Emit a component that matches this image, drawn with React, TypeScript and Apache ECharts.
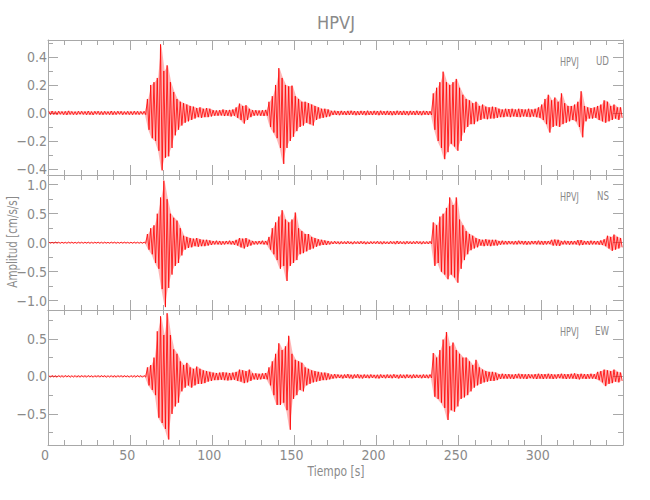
import React, { useEffect, useRef } from "react";
import * as echarts from "echarts";

const STATION = "HPVJ";
const CHANNELS = ["UD", "NS", "EW"];
const X_NAME = "Tiempo [s]";
const Y_NAME = "Amplitud [cm/s/s]";
const BIN_SECONDS = 2;
const X_MIN = 0;
const X_MAX = 350;
const X_INTERVAL = 50;

// per-panel axis extents and tick values
const Y_RANGES = [
  [-0.443, 0.521],
  [-1.16, 1.167],
  [-0.913, 0.883],
];
const Y_MAJOR = [
  [-0.4, -0.2, 0, 0.2, 0.4],
  [-1, -0.5, 0, 0.5, 1],
  [-0.5, 0, 0.5],
];
const Y_MINOR = [
  [-0.3, -0.1, 0.1, 0.3, 0.5],
  [-0.75, -0.25, 0.25, 0.75],
  [-0.75, -0.25, 0.25, 0.75],
];

// peak values (max / min) per 2 s window
const UD_HI = [
  0.012, 0.014, 0.01, 0.013, 0.011, 0.012, 0.015, 0.011, 0.01, 0.013,
  0.012, 0.011, 0.014, 0.01, 0.012, 0.013, 0.011, 0.012, 0.01, 0.014,
  0.011, 0.013, 0.012, 0.01, 0.012, 0.011, 0.013, 0.012, 0.011, 0.012,
  0.1, 0.2, 0.22, 0.25, 0.49, 0.3, 0.34, 0.22, 0.15, 0.1,
  0.08, 0.07, 0.06, 0.05, 0.045, 0.035, 0.04, 0.03, 0.035, 0.03,
  0.02, 0.018, 0.02, 0.025, 0.02, 0.022, 0.025, 0.04, 0.067, 0.05,
  0.055, 0.03, 0.02, 0.02, 0.018, 0.02, 0.022, 0.08, 0.12, 0.2,
  0.32, 0.25, 0.2, 0.19, 0.195, 0.12, 0.1, 0.08, 0.08, 0.07,
  0.06, 0.05, 0.04, 0.03, 0.03, 0.025, 0.015, 0.016, 0.014, 0.015,
  0.013, 0.015, 0.016, 0.014, 0.013, 0.015, 0.014, 0.016, 0.013, 0.015,
  0.014, 0.016, 0.013, 0.015, 0.014, 0.013, 0.016, 0.014, 0.015, 0.013,
  0.015, 0.014, 0.016, 0.013, 0.015, 0.014, 0.013, 0.14, 0.18, 0.22,
  0.295, 0.22, 0.2, 0.22, 0.243, 0.18, 0.13, 0.1, 0.09, 0.07,
  0.08, 0.05, 0.06, 0.045, 0.04, 0.045, 0.04, 0.03, 0.025, 0.03,
  0.028, 0.03, 0.025, 0.03, 0.027, 0.025, 0.03, 0.025, 0.03, 0.04,
  0.06, 0.1, 0.13, 0.09, 0.11, 0.08, 0.14, 0.07, 0.05, 0.05,
  0.06, 0.08, 0.155, 0.05, 0.04, 0.035, 0.04, 0.05, 0.06, 0.09,
  0.08, 0.05, 0.06, 0.04, 0.04,
];
const UD_LO = [
  -0.012, -0.011, -0.013, -0.01, -0.012, -0.014, -0.011, -0.012, -0.013, -0.01,
  -0.011, -0.013, -0.012, -0.014, -0.01, -0.012, -0.013, -0.011, -0.012, -0.013,
  -0.012, -0.01, -0.013, -0.011, -0.012, -0.013, -0.011, -0.012, -0.01, -0.012,
  -0.12, -0.18, -0.2, -0.27, -0.41, -0.32, -0.31, -0.25, -0.16, -0.12,
  -0.09, -0.07, -0.06, -0.05, -0.04, -0.03, -0.035, -0.03, -0.03, -0.025,
  -0.02, -0.02, -0.018, -0.022, -0.02, -0.025, -0.02, -0.035, -0.05, -0.076,
  -0.05, -0.03, -0.02, -0.018, -0.02, -0.022, -0.02, -0.1, -0.14, -0.18,
  -0.25, -0.364, -0.25, -0.2, -0.17, -0.13, -0.1, -0.09, -0.07, -0.08,
  -0.09, -0.05, -0.04, -0.035, -0.03, -0.025, -0.015, -0.014, -0.016, -0.013,
  -0.015, -0.014, -0.013, -0.016, -0.015, -0.013, -0.016, -0.014, -0.015, -0.013,
  -0.016, -0.013, -0.015, -0.014, -0.016, -0.015, -0.013, -0.015, -0.014, -0.016,
  -0.013, -0.015, -0.014, -0.016, -0.013, -0.015, -0.014, -0.12, -0.2, -0.25,
  -0.33, -0.28, -0.22, -0.24, -0.27, -0.2, -0.14, -0.1, -0.08, -0.08,
  -0.06, -0.05, -0.04, -0.045, -0.04, -0.04, -0.035, -0.03, -0.03, -0.025,
  -0.03, -0.025, -0.028, -0.03, -0.025, -0.027, -0.03, -0.025, -0.03, -0.035,
  -0.05, -0.08, -0.14, -0.1, -0.09, -0.1, -0.08, -0.07, -0.06, -0.05,
  -0.06, -0.1, -0.174, -0.06, -0.04, -0.04, -0.035, -0.05, -0.06, -0.07,
  -0.06, -0.05, -0.04, -0.05, -0.035,
];
const NS_HI = [
  0.01, 0.008, 0.011, 0.009, 0.01, 0.008, 0.011, 0.01, 0.009, 0.01,
  0.009, 0.011, 0.01, 0.008, 0.01, 0.011, 0.009, 0.01, 0.008, 0.011,
  0.01, 0.009, 0.011, 0.01, 0.008, 0.01, 0.011, 0.009, 0.01, 0.012,
  0.15, 0.25, 0.3, 0.5, 0.78, 1.07, 0.75, 0.5, 0.43, 0.38,
  0.25, 0.12, 0.1, 0.08, 0.07, 0.08, 0.06, 0.05, 0.05, 0.04,
  0.03, 0.035, 0.03, 0.025, 0.03, 0.035, 0.03, 0.05, 0.08, 0.07,
  0.08, 0.05, 0.03, 0.025, 0.03, 0.035, 0.03, 0.1, 0.25, 0.35,
  0.45, 0.56, 0.4, 0.35, 0.4, 0.52, 0.25, 0.2, 0.15, 0.15,
  0.1, 0.08, 0.06, 0.05, 0.04, 0.03, 0.02, 0.025, 0.02, 0.022,
  0.02, 0.025, 0.018, 0.022, 0.02, 0.025, 0.02, 0.018, 0.022, 0.02,
  0.025, 0.02, 0.022, 0.018, 0.025, 0.02, 0.03, 0.022, 0.02, 0.025,
  0.02, 0.022, 0.025, 0.02, 0.022, 0.02, 0.025, 0.35, 0.3, 0.45,
  0.5, 0.6, 0.78, 0.65, 0.78, 0.4, 0.3, 0.2, 0.15, 0.12,
  0.08, 0.06, 0.05, 0.06, 0.05, 0.05, 0.05, 0.03, 0.035, 0.03,
  0.03, 0.025, 0.03, 0.035, 0.03, 0.03, 0.025, 0.03, 0.03, 0.035,
  0.03, 0.03, 0.03, 0.05, 0.055, 0.05, 0.03, 0.035, 0.03, 0.03,
  0.03, 0.045, 0.045, 0.03, 0.03, 0.035, 0.03, 0.03, 0.04, 0.06,
  0.12, 0.1, 0.14, 0.1, 0.08,
];
const NS_LO = [
  -0.009, -0.01, -0.008, -0.011, -0.009, -0.01, -0.008, -0.01, -0.011, -0.009,
  -0.01, -0.009, -0.011, -0.01, -0.008, -0.01, -0.011, -0.009, -0.01, -0.008,
  -0.011, -0.01, -0.009, -0.008, -0.01, -0.011, -0.009, -0.01, -0.011, -0.01,
  -0.12, -0.2, -0.35, -0.45, -0.8, -1.11, -0.78, -0.55, -0.4, -0.35,
  -0.22, -0.12, -0.09, -0.08, -0.06, -0.07, -0.06, -0.06, -0.05, -0.04,
  -0.03, -0.03, -0.035, -0.03, -0.025, -0.03, -0.035, -0.05, -0.08, -0.1,
  -0.07, -0.05, -0.03, -0.03, -0.025, -0.03, -0.035, -0.12, -0.2, -0.3,
  -0.45, -0.4, -0.66, -0.4, -0.35, -0.3, -0.2, -0.18, -0.15, -0.12,
  -0.1, -0.07, -0.05, -0.04, -0.04, -0.03, -0.022, -0.02, -0.025, -0.02,
  -0.022, -0.02, -0.025, -0.018, -0.022, -0.02, -0.025, -0.022, -0.02, -0.018,
  -0.02, -0.025, -0.02, -0.022, -0.018, -0.025, -0.022, -0.02, -0.025, -0.02,
  -0.022, -0.02, -0.018, -0.025, -0.02, -0.022, -0.02, -0.4, -0.35, -0.5,
  -0.55, -0.63, -0.55, -0.6, -0.69, -0.45, -0.3, -0.2, -0.13, -0.1,
  -0.08, -0.05, -0.06, -0.05, -0.06, -0.05, -0.05, -0.035, -0.03, -0.03,
  -0.025, -0.03, -0.03, -0.025, -0.03, -0.035, -0.03, -0.025, -0.03, -0.03,
  -0.035, -0.03, -0.025, -0.05, -0.05, -0.055, -0.03, -0.03, -0.035, -0.03,
  -0.03, -0.045, -0.04, -0.03, -0.035, -0.03, -0.03, -0.035, -0.04, -0.06,
  -0.1, -0.14, -0.12, -0.1, -0.08,
];
const EW_HI = [
  0.01, 0.012, 0.009, 0.011, 0.01, 0.012, 0.01, 0.009, 0.011, 0.01,
  0.012, 0.01, 0.011, 0.009, 0.01, 0.012, 0.011, 0.01, 0.009, 0.011,
  0.01, 0.011, 0.012, 0.01, 0.009, 0.011, 0.01, 0.012, 0.01, 0.011,
  0.12, 0.15, 0.25, 0.6, 0.8, 0.55, 0.84, 0.55, 0.36, 0.3,
  0.2, 0.15, 0.18, 0.12, 0.1, 0.13, 0.1, 0.08, 0.07, 0.06,
  0.05, 0.045, 0.05, 0.055, 0.05, 0.045, 0.05, 0.06, 0.09, 0.08,
  0.07, 0.09, 0.04, 0.04, 0.035, 0.04, 0.045, 0.12, 0.2, 0.3,
  0.44, 0.35, 0.4, 0.54, 0.3, 0.22, 0.2, 0.18, 0.12, 0.1,
  0.08, 0.07, 0.06, 0.05, 0.05, 0.04, 0.025, 0.03, 0.025, 0.022,
  0.025, 0.03, 0.022, 0.025, 0.028, 0.02, 0.025, 0.022, 0.025, 0.02,
  0.022, 0.025, 0.02, 0.025, 0.022, 0.028, 0.02, 0.025, 0.022, 0.025,
  0.02, 0.025, 0.022, 0.02, 0.025, 0.022, 0.025, 0.31, 0.25, 0.35,
  0.49, 0.59, 0.4, 0.45, 0.35, 0.3, 0.25, 0.25, 0.2, 0.15,
  0.22, 0.12, 0.09, 0.07, 0.06, 0.06, 0.05, 0.03, 0.035, 0.03,
  0.03, 0.025, 0.03, 0.035, 0.03, 0.028, 0.03, 0.025, 0.03, 0.035,
  0.03, 0.03, 0.035, 0.03, 0.025, 0.03, 0.035, 0.03, 0.03, 0.035,
  0.04, 0.03, 0.035, 0.03, 0.03, 0.035, 0.03, 0.06, 0.07, 0.09,
  0.08, 0.07, 0.09, 0.06, 0.05,
];
const EW_LO = [
  -0.011, -0.009, -0.012, -0.01, -0.011, -0.009, -0.012, -0.01, -0.011, -0.012,
  -0.01, -0.011, -0.009, -0.012, -0.01, -0.011, -0.009, -0.012, -0.01, -0.011,
  -0.012, -0.01, -0.011, -0.009, -0.012, -0.01, -0.011, -0.009, -0.012, -0.01,
  -0.12, -0.18, -0.25, -0.55, -0.62, -0.7, -0.84, -0.5, -0.4, -0.35,
  -0.2, -0.15, -0.12, -0.15, -0.12, -0.1, -0.1, -0.09, -0.07, -0.06,
  -0.05, -0.05, -0.045, -0.05, -0.055, -0.05, -0.045, -0.06, -0.07, -0.09,
  -0.08, -0.06, -0.04, -0.045, -0.04, -0.035, -0.04, -0.12, -0.25, -0.38,
  -0.38, -0.35, -0.45, -0.71, -0.3, -0.25, -0.18, -0.2, -0.12, -0.1,
  -0.08, -0.07, -0.06, -0.05, -0.05, -0.04, -0.03, -0.025, -0.022, -0.028,
  -0.022, -0.025, -0.03, -0.02, -0.025, -0.028, -0.022, -0.025, -0.02, -0.025,
  -0.028, -0.02, -0.025, -0.022, -0.025, -0.02, -0.028, -0.022, -0.025, -0.02,
  -0.025, -0.022, -0.02, -0.025, -0.022, -0.025, -0.02, -0.27, -0.3, -0.35,
  -0.42, -0.58, -0.45, -0.47, -0.4, -0.3, -0.28, -0.25, -0.2, -0.15,
  -0.12, -0.1, -0.08, -0.07, -0.06, -0.06, -0.05, -0.035, -0.03, -0.03,
  -0.03, -0.035, -0.025, -0.03, -0.03, -0.035, -0.025, -0.03, -0.035, -0.03,
  -0.035, -0.03, -0.03, -0.035, -0.03, -0.025, -0.03, -0.035, -0.03, -0.03,
  -0.035, -0.04, -0.03, -0.035, -0.03, -0.03, -0.035, -0.05, -0.08, -0.13,
  -0.1, -0.09, -0.07, -0.08, -0.06,
];

const HI = [UD_HI, NS_HI, EW_HI];
const LO = [UD_LO, NS_LO, EW_LO];

const FONT =
  "'DejaVu Sans Condensed', 'Liberation Sans Narrow', 'Roboto Condensed', 'Liberation Sans', sans-serif";
const TEXT_COLOR = "#8a8a8a";
const AXIS_COLOR = "#a8a8a8";
const TRACE_COLOR = "#ff0000";
const FILL_COLOR = "rgba(255, 50, 50, 0.35)";

const GRID_TOPS = [40, 175, 310];
const GRID_H = 135;
const GRID_LEFT = 48;
const GRID_RIGHT = 27;

function buildTrace(hi: number[], lo: number[]) {
  const pts: number[][] = [];
  for (let i = 0; i < hi.length; i++) {
    const t0 = i * BIN_SECONDS;
    pts.push([t0 + 0.5, hi[i]]);
    pts.push([t0 + 1.5, lo[i]]);
  }
  return pts;
}

const fmt = (v: number) => v.toFixed(1).replace("-", "\u2212");

export default function App() {
  const ref = useRef<HTMLDivElement>(null);
  useEffect(() => {
    if (!ref.current) return;
    document.body.style.margin = "0";
    const chart = echarts.init(ref.current, undefined, { renderer: "svg" });

    const grids: any[] = [];
    const xAxes: any[] = [];
    const yAxes: any[] = [];
    const series: any[] = [];
    const graphics: any[] = [];

    for (let g = 0; g < 3; g++) {
      grids.push({
        left: GRID_LEFT,
        right: GRID_RIGHT,
        top: GRID_TOPS[g],
        height: GRID_H,
        containLabel: false,
      });
      const isBottom = g === 2;
      const baseX = {
        type: "value",
        gridIndex: g,
        min: X_MIN,
        max: X_MAX,
        interval: X_INTERVAL,
        splitLine: { show: false },
        axisLine: { show: true, onZero: false, lineStyle: { color: AXIS_COLOR, width: 1 } },
        axisTick: { show: true, inside: true, length: 10, lineStyle: { color: AXIS_COLOR } },
        minorTick: { show: true, splitNumber: 5, length: 5, lineStyle: { color: AXIS_COLOR } },
      };
      xAxes.push({
        ...baseX,
        position: "bottom",
        axisLabel: {
          show: isBottom,
          showMaxLabel: false,
          color: TEXT_COLOR,
          fontFamily: FONT,
          fontSize: 14,
          margin: 3,
          padding: [0, 6, 0, 0],
        },
      });
      xAxes.push({ ...baseX, position: "top", axisLabel: { show: false } });

      const [ymin, ymax] = Y_RANGES[g];
      const baseY = {
        type: "value",
        gridIndex: g,
        min: ymin,
        max: ymax,
        splitLine: { show: false },
      };
      const major = (pos: string, label: boolean) => ({
        ...baseY,
        position: pos,
        axisLine: { show: true, onZero: false, lineStyle: { color: AXIS_COLOR, width: 1 } },
        axisTick: {
          show: true,
          inside: true,
          length: 10,
          customValues: Y_MAJOR[g],
          lineStyle: { color: AXIS_COLOR },
        },
        axisLabel: label
          ? {
              show: true,
              customValues: Y_MAJOR[g],
              formatter: (v: number) => fmt(v),
              color: TEXT_COLOR,
              fontFamily: FONT,
              fontSize: 14,
              margin: 1,
            }
          : { show: false },
      });
      const minor = (pos: string) => ({
        ...baseY,
        position: pos,
        axisLine: { show: false, onZero: false },
        axisTick: {
          show: true,
          inside: true,
          length: 5,
          customValues: Y_MINOR[g],
          lineStyle: { color: AXIS_COLOR },
        },
        axisLabel: { show: false },
      });
      yAxes.push(major("left", true));
      yAxes.push(minor("left"));
      yAxes.push(major("right", false));
      yAxes.push(minor("right"));

      const hi = HI[g];
      const lo = LO[g];
      // envelope band (light fill between the window maxima and minima)
      series.push({
        type: "custom",
        xAxisIndex: 2 * g,
        yAxisIndex: 4 * g,
        data: [[0, 0]],
        silent: true,
        z: 1,
        renderItem: (_params: any, api: any) => {
          const upper: number[][] = [];
          const lower: number[][] = [];
          for (let i = 0; i < hi.length; i++) {
            const t = i * BIN_SECONDS + 1;
            upper.push(api.coord([t, hi[i]]));
            lower.push(api.coord([t, lo[i]]));
          }
          return {
            type: "polygon",
            shape: { points: upper.concat(lower.reverse()) },
            style: { fill: FILL_COLOR, stroke: "none" },
          };
        },
      });
      series.push({
        type: "line",
        xAxisIndex: 2 * g,
        yAxisIndex: 4 * g,
        data: buildTrace(hi, lo),
        showSymbol: false,
        symbol: "none",
        lineStyle: { color: TRACE_COLOR, width: 0.8 },
        z: 2,
      });

      graphics.push({
        type: "text",
        x: 560,
        y: GRID_TOPS[g] + 21,
        scaleX: 0.75,
        style: {
          text: STATION,
          fill: TEXT_COLOR,
          font: `12px ${FONT}`,
          textAlign: "left",
          textVerticalAlign: "middle",
        },
      });
      graphics.push({
        type: "text",
        x: 609,
        y: GRID_TOPS[g] + 21,
        scaleX: 0.8,
        style: {
          text: CHANNELS[g],
          fill: TEXT_COLOR,
          font: `12px ${FONT}`,
          textAlign: "right",
          textVerticalAlign: "middle",
        },
      });
    }

    graphics.push({
      type: "text",
      x: 336,
      y: 22,
      style: {
        text: STATION,
        fill: TEXT_COLOR,
        font: `18px ${FONT}`,
        textAlign: "center",
        textVerticalAlign: "middle",
      },
    });
    graphics.push({
      type: "text",
      x: 336,
      y: 471,
      scaleX: 0.85,
      style: {
        text: X_NAME,
        fill: TEXT_COLOR,
        font: `14px ${FONT}`,
        textAlign: "center",
        textVerticalAlign: "middle",
      },
    });
    graphics.push({
      type: "text",
      x: 12,
      y: 242,
      rotation: Math.PI / 2,
      scaleX: 0.82,
      style: {
        text: Y_NAME,
        fill: TEXT_COLOR,
        font: `14px ${FONT}`,
        textAlign: "center",
        textVerticalAlign: "middle",
      },
    });

    chart.setOption({
      animation: false,
      backgroundColor: "#ffffff",
      grid: grids,
      xAxis: xAxes,
      yAxis: yAxes,
      series,
      graphic: graphics,
    });
    return () => chart.dispose();
  }, []);
  return (
    <div
      ref={ref}
      style={{ position: "absolute", left: 0, top: 0, width: 650, height: 500 }}
    />
  );
}
